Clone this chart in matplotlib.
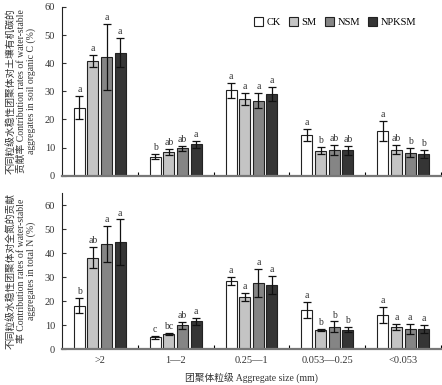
import matplotlib.pyplot as plt
import numpy as np

plt.rcParams['font.family'] = ['Liberation Serif', 'Noto Sans CJK SC']

groups = ['>2', '1\u20142', '0.25\u20141', '0.053\u20140.25', '<0.053']
treatments = ['CK', 'SM', 'NSM', 'NPKSM']
colors = ['#ffffff', '#c4c4c4', '#858585', '#353535']

# soil organic C contribution (%)
soc_ck = [24.2, 6.8, 30.3, 14.5, 16.0]
soc_sm = [40.8, 8.5, 27.2, 8.9, 9.3]
soc_nsm = [42.2, 9.7, 26.7, 9.1, 8.2]
soc_npksm = [43.8, 11.2, 29.1, 9.1, 7.8]
soc_ck_err = [4.0, 1.0, 2.8, 2.2, 3.5]
soc_sm_err = [2.0, 1.1, 2.2, 1.3, 1.5]
soc_nsm_err = [11.7, 0.9, 2.7, 1.7, 1.5]
soc_npksm_err = [5.2, 1.3, 2.4, 1.6, 1.4]
soc_letters = [['a', 'a', 'a', 'a'], ['b', 'ab', 'ab', 'a'], ['a', 'a', 'a', 'a'],
               ['a', 'b', 'ab', 'ab'], ['a', 'ab', 'b', 'b']]

# total N contribution (%)
tn_ck = [18.2, 5.0, 28.4, 16.5, 14.4]
tn_sm = [38.1, 6.5, 21.8, 8.2, 9.4]
tn_nsm = [43.8, 10.0, 27.6, 9.4, 8.6]
tn_npksm = [44.6, 11.6, 26.9, 8.2, 8.6]
tn_ck_err = [3.3, 0.7, 1.8, 3.3, 3.3]
tn_sm_err = [4.4, 0.4, 1.8, 0.4, 1.3]
tn_nsm_err = [7.6, 1.4, 5.8, 2.2, 2.1]
tn_npksm_err = [9.4, 1.3, 3.7, 1.2, 1.7]
tn_letters = [['b', 'ab', 'a', 'a'], ['c', 'bc', 'ab', 'a'], ['a', 'a', 'a', 'a'],
              ['a', 'b', 'b', 'b'], ['a', 'a', 'a', 'a']]

fig = plt.figure(figsize=(4.42, 3.85), dpi=100)
ax1 = fig.add_axes([0.140, 0.5436, 0.858, 0.4384])
ax2 = fig.add_axes([0.140, 0.0927, 0.858, 0.406])

offsets = [-0.27, -0.09, 0.09, 0.27]
width = 0.145
x = np.arange(len(groups))


def draw(ax, vals, errs, letters, ymax, ylabel):
    for i, (v, e) in enumerate(zip(vals, errs)):
        ax.bar(x + offsets[i], v, width, color=colors[i], edgecolor='#222222',
               linewidth=0.8, label=treatments[i], zorder=2)
        ax.errorbar(x + offsets[i], v, yerr=e, fmt='none', ecolor='#111111',
                    elinewidth=0.9, capsize=2.8, capthick=0.9, zorder=3)
        for g in range(len(groups)):
            ax.text(x[g] + offsets[i], v[g] + e[g] + ymax * 0.012, letters[g][i],
                    ha='center', va='bottom', fontsize=7, color='#333333')
    ax.set_xlim(-0.5, 4.5)
    ax.set_ylim(0, ymax)
    ax.set_yticks(range(0, 61, 10))
    ax.set_xticks(x)
    ax.set_xticks(np.arange(0.5, 5, 1), minor=True)
    ax.tick_params(axis='x', which='major', length=0, labelsize=7.5, pad=5, colors='#333333')
    ax.tick_params(axis='x', which='minor', direction='in', length=3, width=0.8)
    ax.tick_params(axis='y', direction='in', length=3, width=0.8, labelsize=7.5,
                   pad=5, colors='#333333')
    ax.spines['top'].set_visible(False)
    ax.spines['right'].set_visible(False)
    ax.spines['left'].set_color('#222222')
    ax.spines['bottom'].set_color('#777777')
    ax.spines['bottom'].set_linewidth(1.6)
    ax.set_ylabel(ylabel, fontsize=7, linespacing=1.15, color='#333333', labelpad=6)


draw(ax1, [soc_ck, soc_sm, soc_nsm, soc_npksm],
     [soc_ck_err, soc_sm_err, soc_nsm_err, soc_npksm_err], soc_letters, 60,
     '不同粒级水稳性团聚体对土壤有机碳的\n贡献率 Contribution rates of water-stable\naggregates in soil organic C (%)')
ax1.set_xticklabels([])

draw(ax2, [tn_ck, tn_sm, tn_nsm, tn_npksm],
     [tn_ck_err, tn_sm_err, tn_nsm_err, tn_npksm_err], tn_letters, 65,
     '不同粒级水稳性团聚体对全氮的贡献\n率 Contribution rates of water-stable\naggregates in total N (%)')
ax2.set_xticklabels(groups)
ax2.set_xlabel('团聚体粒级 Aggregate size (mm)', fontsize=7, labelpad=5, color='#333333')

ax1.legend(loc='upper right', bbox_to_anchor=(0.945, 0.965), ncol=4, frameon=False,
           fontsize=7.5, handlelength=0.9, handleheight=0.9, handletextpad=0.3,
           columnspacing=0.8, borderaxespad=0)

fig.savefig('out.png', dpi=100)
